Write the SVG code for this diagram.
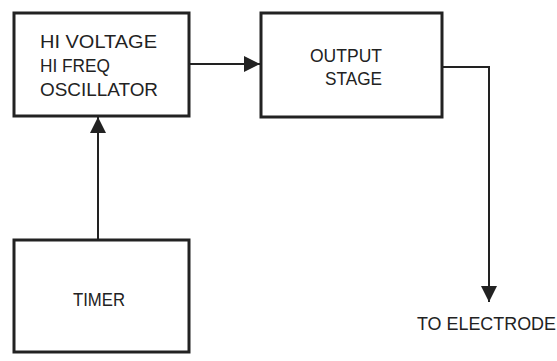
<svg xmlns="http://www.w3.org/2000/svg" width="557" height="361" viewBox="0 0 557 361">
<style>
.box{fill:#fff;stroke:#222;stroke-width:3}
.wire{fill:none;stroke:#222;stroke-width:2}
.lbl{font-family:"Liberation Sans",Arial,sans-serif;font-size:18px;fill:#222}
</style>
<defs>
<marker id="ah" viewBox="0 0 16 16" refX="16" refY="8" markerWidth="16" markerHeight="16" markerUnits="userSpaceOnUse" orient="auto">
<path d="M0,0 L16,8 L0,16 Z" fill="#222"/>
</marker>
</defs>
<rect width="557" height="361" fill="#fff"/>
<g id="connectors">
<line class="wire" x1="189" y1="64" x2="260" y2="64" marker-end="url(#ah)"/>
<line class="wire" x1="98" y1="240" x2="98" y2="117" marker-end="url(#ah)"/>
<polyline class="wire" points="442,67 489,67 489,302" marker-end="url(#ah)"/>
</g>
<g id="oscillator">
<rect class="box" x="14" y="13" width="175" height="103"/>
<text class="lbl" x="40" y="48" textLength="117" lengthAdjust="spacingAndGlyphs">HI VOLTAGE</text>
<text class="lbl" x="40" y="72" textLength="70" lengthAdjust="spacingAndGlyphs">HI FREQ</text>
<text class="lbl" x="40" y="96" textLength="118" lengthAdjust="spacingAndGlyphs">OSCILLATOR</text>
</g>
<g id="output-stage">
<rect class="box" x="261" y="13" width="181" height="104"/>
<text class="lbl" x="310" y="62" textLength="72" lengthAdjust="spacingAndGlyphs">OUTPUT</text>
<text class="lbl" x="325" y="85" textLength="57" lengthAdjust="spacingAndGlyphs">STAGE</text>
</g>
<g id="timer">
<rect class="box" x="14" y="240" width="175" height="112"/>
<text class="lbl" x="73" y="306" textLength="52" lengthAdjust="spacingAndGlyphs">TIMER</text>
</g>
<g id="electrode">
<text class="lbl" x="417" y="330" textLength="139" lengthAdjust="spacingAndGlyphs">TO ELECTRODE</text>
</g>
</svg>
